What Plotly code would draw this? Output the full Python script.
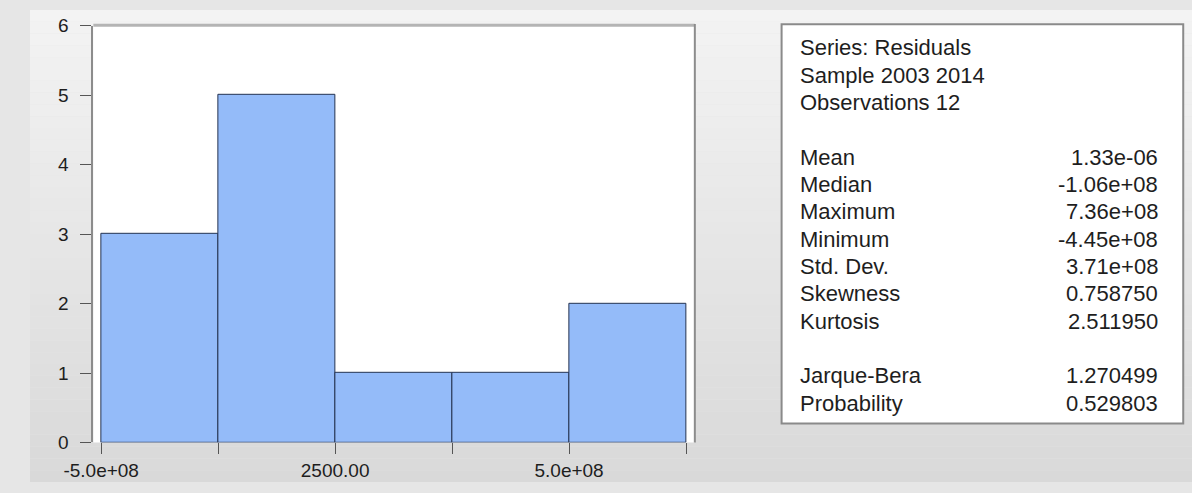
import plotly.graph_objects as go

# Residual histogram: bin edges and counts
bin_edges = [-5.0e8, -2.5e8, 0.0, 2.5e8, 5.0e8, 7.5e8]
counts = [3, 5, 1, 1, 2]

# Axis ticks
x_major_vals = [-5.0e8, 0.0, 5.0e8]
x_major_text = ["-5.0e+08", "2500.00", "5.0e+08"]
x_minor_vals = [-2.5e8, 2.5e8, 7.5e8]
y_tick_vals = [0, 1, 2, 3, 4, 5, 6]

# Descriptive statistics panel
header_lines = ["Series: Residuals", "Sample 2003 2014", "Observations 12"]
stat_names = ["Mean", "Median", "Maximum", "Minimum", "Std. Dev.", "Skewness", "Kurtosis"]
stat_values = ["1.33e-06", "-1.06e+08", "7.36e+08", "-4.45e+08", "3.71e+08", "0.758750", "2.511950"]
test_names = ["Jarque-Bera", "Probability"]
test_values = ["1.270499", "0.529803"]

W, H = 1192, 493
FONT = "Liberation Sans, Arial, sans-serif"
TXT = "#1e1e1e"

centers = [(a + b) / 2 for a, b in zip(bin_edges[:-1], bin_edges[1:])]
widths = [b - a for a, b in zip(bin_edges[:-1], bin_edges[1:])]

fig = go.Figure(go.Bar(
    x=centers, y=counts, width=widths,
    marker=dict(color="#94bbf9", line=dict(color="#243350", width=1)),
    hoverinfo="x+y",
))

def px_x(p):
    return p / W

def px_y(p):
    return 1 - p / H

plot_left, plot_right = 65, 682
plot_top, plot_bottom = 16.5, 451.7

shapes = []
# soft vertical gradient behind everything
n_bands = 40
top_c, bot_c = (243, 243, 243), (217, 217, 217)
for i in range(n_bands):
    t = i / (n_bands - 1)
    c = tuple(round(top_c[k] + (bot_c[k] - top_c[k]) * t) for k in range(3))
    shapes.append(dict(type="rect", xref="paper", yref="paper", layer="below",
                       x0=0, x1=1, y0=1 - (i + 1) / n_bands, y1=1 - i / n_bands,
                       fillcolor="rgb(%d,%d,%d)" % c, line=dict(width=0)))
# white plotting area
shapes.append(dict(type="rect", xref="paper", yref="paper", layer="below",
                   x0=px_x(plot_left), x1=px_x(plot_right), y0=px_y(plot_bottom), y1=px_y(plot_top),
                   fillcolor="white", line=dict(width=0)))
# plot frame: top and right edges
shapes.append(dict(type="line", xref="paper", yref="paper",
                   x0=px_x(plot_left), x1=px_x(plot_right), y0=px_y(plot_top - 0.5), y1=px_y(plot_top - 0.5),
                   line=dict(color="#b4b4b4", width=3)))
shapes.append(dict(type="line", xref="paper", yref="paper",
                   x0=px_x(plot_right), x1=px_x(plot_right), y0=px_y(plot_bottom), y1=px_y(plot_top - 2),
                   line=dict(color="#8c8c8c", width=2)))
# statistics box
shapes.append(dict(type="rect", xref="paper", yref="paper",
                   x0=px_x(771), x1=px_x(1183), y0=px_y(432), y1=px_y(15),
                   fillcolor="white", line=dict(color="#8a8a8a", width=2)))

annotations = []
row0, step = 39.5, 28.56
label_x, value_x = px_x(788), px_x(1159)
fs = 22

def add_row(k, label, value=None):
    yc = px_y(row0 + k * step)
    annotations.append(dict(xref="paper", yref="paper", x=label_x, y=yc, text=label,
                            showarrow=False, xanchor="left", yanchor="middle",
                            font=dict(family=FONT, size=fs, color=TXT)))
    if value is not None:
        annotations.append(dict(xref="paper", yref="paper", x=value_x, y=yc, text=value,
                                showarrow=False, xanchor="right", yanchor="middle",
                                font=dict(family=FONT, size=fs, color=TXT)))

for k, line in enumerate(header_lines):
    add_row(k, line)
for k, (n, v) in enumerate(zip(stat_names, stat_values)):
    add_row(4 + k, n, v)
for k, (n, v) in enumerate(zip(test_names, test_values)):
    add_row(12 + k, n, v)

# axis range in data units from pixel layout (120 px per bin)
bw = bin_edges[1] - bin_edges[0]
x_lo = bin_edges[0] - (73 - plot_left) / 120 * bw
x_hi = bin_edges[-1] + (plot_right - 673) / 120 * bw

fig.update_layout(
    width=W, height=H, autosize=False,
    margin=dict(l=0, r=0, t=0, b=0),
    paper_bgcolor="#e6e6e6", plot_bgcolor="rgba(0,0,0,0)",
    bargap=0, showlegend=False,
    shapes=shapes, annotations=annotations,
    font=dict(family=FONT, color=TXT),
    xaxis=dict(domain=[px_x(plot_left), px_x(plot_right)], range=[x_lo, x_hi],
               tickmode="array", tickvals=x_major_vals, ticktext=x_major_text,
               ticks="outside", ticklen=11, tickwidth=1, tickcolor="#555",
               tickfont=dict(family=FONT, size=19, color=TXT),
               minor=dict(tickmode="array", tickvals=x_minor_vals, ticks="outside",
                          ticklen=11, tickwidth=1, tickcolor="#555"),
               showgrid=False, zeroline=False, showline=False, fixedrange=True),
    yaxis=dict(domain=[px_y(plot_bottom), px_y(plot_top)], range=[0, 6],
               tickmode="array", tickvals=y_tick_vals,
               ticks="outside", ticklen=11, tickwidth=1, tickcolor="#555",
               tickfont=dict(family=FONT, size=19, color=TXT), ticklabelstandoff=8,
               showgrid=False, zeroline=False, showline=True, linecolor="#8c8c8c",
               linewidth=2, fixedrange=True),
)

fig.write_html("out.html", config={"displayModeBar": False},
               post_script="document.body.style.margin='0';document.body.style.overflow='hidden';")
